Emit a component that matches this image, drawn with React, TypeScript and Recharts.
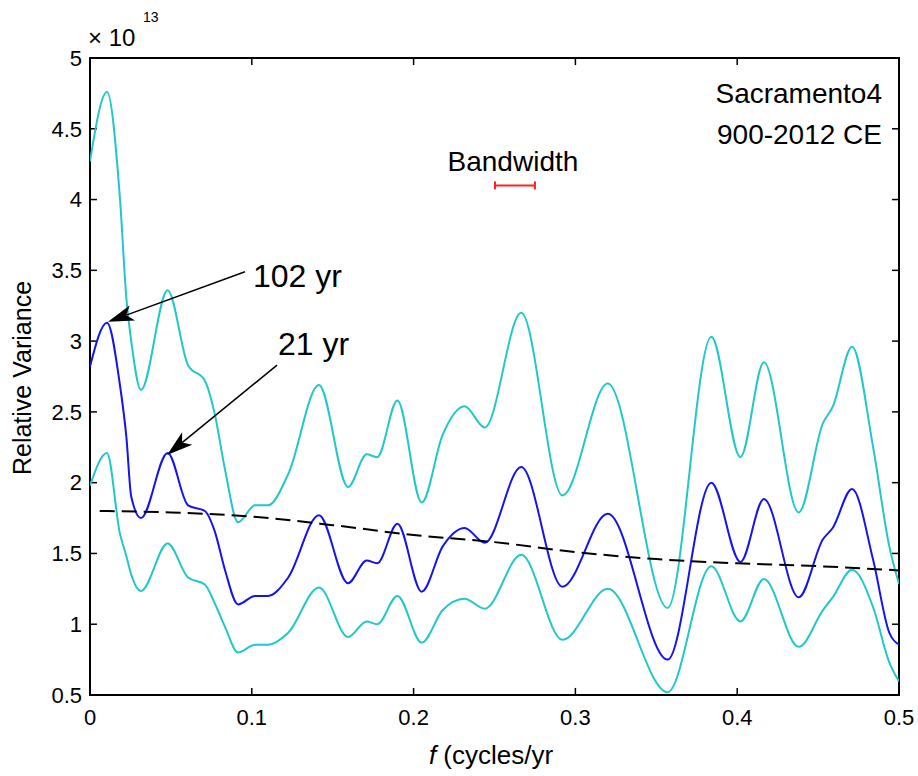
import React from "react";
import { LineChart, Line, XAxis, YAxis, ReferenceLine, ReferenceArea, ReferenceDot } from "recharts";

// frequency grid (cycles/yr) shared by spectrum and confidence bounds
const freq = [
  0, 0.0105, 0.0185, 0.0225, 0.0255, 0.0315, 0.048, 0.0606, 0.071, 0.077, 0.0835, 0.0915,
  0.102, 0.11, 0.1225, 0.1415, 0.1595, 0.171, 0.1775, 0.19, 0.205, 0.218, 0.2315, 0.244,
  0.2665, 0.292, 0.32, 0.357, 0.384, 0.402, 0.4165, 0.438, 0.453, 0.459, 0.471, 0.484, 0.494, 0.5,
];
// relative variance, x 1e13
const upperCI = [
  4.27, 4.76, 4.01, 3.3, 3.0, 2.655, 3.36, 2.83, 2.72, 2.49, 2.09, 1.72,
  1.84, 1.84, 2.06, 2.69, 1.97, 2.2, 2.18, 2.58, 1.86, 2.34, 2.54, 2.39,
  3.2, 1.91, 2.7, 1.115, 3.03, 2.18, 2.85, 1.79, 2.42, 2.535, 2.96, 2.25, 1.55, 1.285,
];
const spectrum = [
  2.82, 3.13, 2.69, 2.32, 1.9, 1.75, 2.21, 1.84, 1.8, 1.66, 1.38, 1.14,
  1.2, 1.2, 1.33, 1.77, 1.29, 1.45, 1.43, 1.71, 1.23, 1.55, 1.68, 1.575,
  2.11, 1.265, 1.78, 0.75, 2.0, 1.44, 1.885, 1.19, 1.6, 1.68, 1.956, 1.455, 0.94, 0.855,
];
const lowerCI = [
  1.98, 2.21, 1.64, 1.48, 1.35, 1.235, 1.57, 1.33, 1.28, 1.15, 0.98, 0.8,
  0.855, 0.855, 0.94, 1.26, 0.91, 1.02, 1.0, 1.2, 0.87, 1.1, 1.18, 1.11,
  1.49, 0.89, 1.25, 0.52, 1.41, 1.02, 1.32, 0.84, 1.1, 1.19, 1.385, 1.12, 0.73, 0.595,
];

// red-noise background (dashed)
const bgFreq = [0.006, 0.05, 0.1, 0.15, 0.2, 0.25, 0.3, 0.35, 0.4, 0.45, 0.5];
const bgLevel = [1.8, 1.79, 1.76, 1.7, 1.63, 1.58, 1.51, 1.46, 1.43, 1.41, 1.38];

const xTicks = [0, 0.1, 0.2, 0.3, 0.4, 0.5];
const yTicks = [0.5, 1, 1.5, 2, 2.5, 3, 3.5, 4, 4.5, 5];

// annotations
const peakLabels = ["102 yr", "21 yr"];
const arrowTail = [[0.0958, 3.49], [0.1156, 2.83]];
const arrowTip = [[0.0111, 3.136], [0.0476, 2.196]];
const labelPos = [[0.1007, 3.383], [0.1162, 2.903]];
const bandwidthRange = [0.2503, 0.275];
const bandwidthLevel = 4.1;

const FONT = "'Liberation Sans', Arial, sans-serif";
const CYAN = "#22c8c8";
const BLUE = "#1414f0";

const rows = freq.map((f, i) => ({ f, upper: upperCI[i], mid: spectrum[i], lower: lowerCI[i] }));
const bgRows = bgFreq.map((f, i) => ({ f, bg: bgLevel[i] }));

const arrowShape = (props: any) => {
  const { x1, y1, x2, y2 } = props;
  const dx = x2 - x1;
  const dy = y2 - y1;
  const len = Math.hypot(dx, dy);
  const ux = dx / len;
  const uy = dy / len;
  const hl = 26;
  const hw = 8;
  const bx = x2 - ux * hl;
  const by = y2 - uy * hl;
  const nx = x2 - ux * hl * 0.75;
  const ny = y2 - uy * hl * 0.75;
  const pts = `${x2},${y2} ${bx - uy * hw},${by + ux * hw} ${nx},${ny} ${bx + uy * hw},${by - ux * hw}`;
  return (
    <g>
      <line x1={x1} y1={y1} x2={nx} y2={ny} stroke="#000" strokeWidth={1.5} />
      <polygon points={pts} fill="#000" />
    </g>
  );
};

const bandShape = (props: any) => {
  const { x1, y1, x2, y2 } = props;
  return (
    <g stroke="#ff2020" strokeWidth={2}>
      <line x1={x1} y1={y1} x2={x2} y2={y2} />
      <line x1={x1} y1={y1 - 4} x2={x1} y2={y1 + 4} />
      <line x1={x2} y1={y2 - 4} x2={x2} y2={y2 + 4} />
    </g>
  );
};

const textAt = (label: string, size: number, anchor: string) => (p: any) => (
  <text x={p.cx} y={p.cy} fontSize={size} fontFamily={FONT} fill="#000" textAnchor={anchor}>
    {label}
  </text>
);

export default function App() {
  return (
    <div style={{ position: "absolute", left: 0, top: 0, width: 918, height: 776, background: "#fff" }}>
      <LineChart width={918} height={776} data={rows} margin={{ top: 58, right: 19, bottom: 0, left: 0 }}>
        <XAxis
          dataKey="f"
          type="number"
          domain={[0, 0.5]}
          ticks={xTicks}
          allowDataOverflow
          height={81}
          tickLine={false}
          axisLine={false}
          tickMargin={8}
          tick={{ fill: "#000", fontSize: 22, fontFamily: FONT }}
        />
        <YAxis
          type="number"
          domain={[0.5, 5]}
          ticks={yTicks}
          allowDataOverflow
          width={90}
          tickLine={false}
          axisLine={false}
          tick={{ fill: "#000", fontSize: 22, fontFamily: FONT }}
        />
        {xTicks.map((t) => (
          <ReferenceLine key={`xb${t}`} segment={[{ x: t, y: 0.5 }, { x: t, y: 0.55 }]} stroke="#000" strokeWidth={1.5} ifOverflow="visible" />
        ))}
        {xTicks.map((t) => (
          <ReferenceLine key={`xt${t}`} segment={[{ x: t, y: 5 }, { x: t, y: 4.95 }]} stroke="#000" strokeWidth={1.5} ifOverflow="visible" />
        ))}
        {yTicks.map((t) => (
          <ReferenceLine key={`yl${t}`} segment={[{ x: 0, y: t }, { x: 0.0043, y: t }]} stroke="#000" strokeWidth={1.5} ifOverflow="visible" />
        ))}
        {yTicks.map((t) => (
          <ReferenceLine key={`yr${t}`} segment={[{ x: 0.5, y: t }, { x: 0.4957, y: t }]} stroke="#000" strokeWidth={1.5} ifOverflow="visible" />
        ))}
        <Line type="monotone" dataKey="upper" stroke={CYAN} strokeWidth={2} dot={false} isAnimationActive={false} />
        <Line type="monotone" dataKey="lower" stroke={CYAN} strokeWidth={2} dot={false} isAnimationActive={false} />
        <Line type="monotone" dataKey="mid" stroke={BLUE} strokeWidth={2} dot={false} isAnimationActive={false} />
        <Line
          data={bgRows}
          type="monotone"
          dataKey="bg"
          stroke="#000"
          strokeWidth={2}
          strokeDasharray="15 7"
          dot={false}
          isAnimationActive={false}
        />
        <ReferenceArea x1={0} x2={0.5} y1={0.5} y2={5} fill="none" stroke="#000" strokeWidth={2} ifOverflow="visible" />
        {peakLabels.map((lab, i) => (
          <ReferenceLine
            key={lab}
            segment={[{ x: arrowTail[i][0], y: arrowTail[i][1] }, { x: arrowTip[i][0], y: arrowTip[i][1] }]}
            shape={arrowShape}
            ifOverflow="visible"
          />
        ))}
        {peakLabels.map((lab, i) => (
          <ReferenceDot key={`l${lab}`} x={labelPos[i][0]} y={labelPos[i][1]} r={0} shape={textAt(lab, 32, "start")} ifOverflow="visible" />
        ))}
        <ReferenceLine
          segment={[{ x: bandwidthRange[0], y: bandwidthLevel }, { x: bandwidthRange[1], y: bandwidthLevel }]}
          shape={bandShape}
          ifOverflow="visible"
        />
        <ReferenceDot x={0.2614} y={4.202} r={0} shape={textAt("Bandwidth", 28, "middle")} ifOverflow="visible" />
        <ReferenceDot x={0.4895} y={4.682} r={0} shape={textAt("Sacramento4", 28, "end")} ifOverflow="visible" />
        <ReferenceDot x={0.4895} y={4.393} r={0} shape={textAt("900-2012 CE", 28, "end")} ifOverflow="visible" />
        <text x={88} y={46} fontSize={24} fontFamily={FONT} fill="#000">
          {"\u00d7 10"}
        </text>
        <text x={143} y={22} fontSize={14} fontFamily={FONT} fill="#000">
          13
        </text>
        <text x={491} y={764} fontSize={26} fontFamily={FONT} fill="#000" textAnchor="middle">
          <tspan fontStyle="italic">f</tspan> (cycles/yr
        </text>
        <text
          x={22}
          y={378}
          fontSize={25}
          fontFamily={FONT}
          fill="#000"
          textAnchor="middle"
          dominantBaseline="central"
          transform="rotate(-90 22 378)"
        >
          Relative Variance
        </text>
      </LineChart>
    </div>
  );
}
